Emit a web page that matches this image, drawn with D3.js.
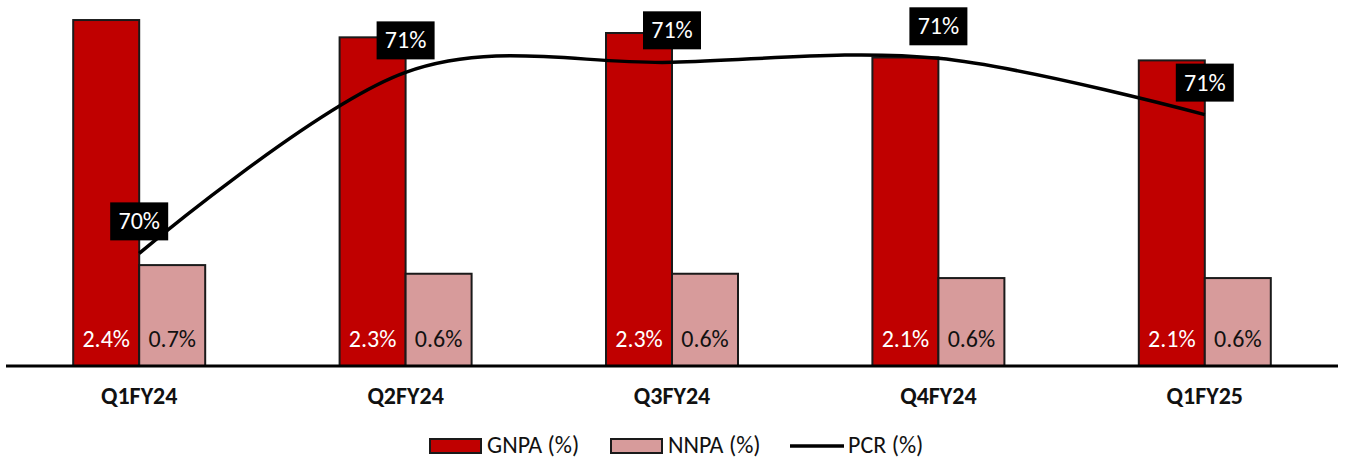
<!DOCTYPE html>
<html>
<head>
<meta charset="utf-8">
<script src="https://cdn.jsdelivr.net/npm/d3@7/dist/d3.min.js"></script>
<style>
  html, body { margin: 0; padding: 0; background: #fff; }
  svg { display: block; font-family: Carlito, Lato, "Open Sans", sans-serif; }
</style>
</head>
<body>
<svg id="chart" width="1347" height="459"></svg>
<script>
// Quarterly asset-quality metrics
const quarters = ["Q1FY24", "Q2FY24", "Q3FY24", "Q4FY24", "Q1FY25"];
const gnpa = [2.40, 2.28, 2.31, 2.14, 2.12];
const nnpa = [0.70, 0.64, 0.64, 0.61, 0.61];
const pcr  = [70.36, 71.26, 71.31, 71.33, 71.05];
const legendLabels = ["GNPA (%)", "NNPA (%)", "PCR (%)"];

const baseY = 366;
const colGNPA = "#C00000", colNNPA = "#D79B9B";
const fs = 24;

const svg = d3.select("#chart");

const x = d3.scaleBand().domain(quarters).range([6, 1338]).padding(0);
const barW = 66;
const y = d3.scaleLinear().domain([0, 2.539]).range([baseY, 0]);
const y2 = d3.scaleLinear().domain([69.8, 71.6]).range([baseY, 4]);
const cx = q => x(q) + x.bandwidth() / 2;
const fmt = d3.format(".1f");

// Bars
const g = svg.append("g");
g.selectAll("rect.gnpa").data(quarters).join("rect")
  .attr("class", "gnpa")
  .attr("x", (q) => cx(q) - barW)
  .attr("y", (q, i) => y(gnpa[i]))
  .attr("width", barW)
  .attr("height", (q, i) => baseY - y(gnpa[i]))
  .attr("fill", colGNPA).attr("stroke", "#1a1a1a").attr("stroke-width", 2);

g.selectAll("rect.nnpa").data(quarters).join("rect")
  .attr("class", "nnpa")
  .attr("x", (q) => cx(q))
  .attr("y", (q, i) => y(nnpa[i]))
  .attr("width", barW)
  .attr("height", (q, i) => baseY - y(nnpa[i]))
  .attr("fill", colNNPA).attr("stroke", "#1a1a1a").attr("stroke-width", 2);

// Bar value labels
g.selectAll("text.gl").data(quarters).join("text")
  .attr("x", q => cx(q) - barW / 2).attr("y", 347)
  .attr("text-anchor", "middle").attr("font-size", fs).attr("fill", "#fff")
  .text((q, i) => fmt(gnpa[i]) + "%");
g.selectAll("text.nl").data(quarters).join("text")
  .attr("x", q => cx(q) + barW / 2).attr("y", 347)
  .attr("text-anchor", "middle").attr("font-size", fs).attr("fill", "#111")
  .text((q, i) => fmt(nnpa[i]) + "%");

// Baseline axis with category labels
const axis = svg.append("g").attr("transform", `translate(0,${baseY})`)
  .call(d3.axisBottom(x).tickSize(0).tickPadding(0));
axis.select(".domain").attr("stroke", "#000").attr("stroke-width", 3)
  .attr("d", "M6,0H1338");
axis.selectAll(".tick text")
  .attr("y", 38).attr("dy", 0)
  .attr("font-size", fs).attr("font-weight", "bold")
  .attr("font-family", "Carlito, Lato, 'Open Sans', sans-serif")
  .attr("fill", "#111");

// PCR smoothed line
const line = d3.line()
  .x((d, i) => cx(quarters[i]))
  .y(d => y2(d))
  .curve(d3.curveCatmullRom.alpha(0));
svg.append("path").datum(pcr).attr("d", line)
  .attr("fill", "none").attr("stroke", "#000").attr("stroke-width", 3.5);

// PCR labels
const lbl = svg.append("g").selectAll("g").data(pcr).join("g")
  .attr("transform", (d, i) => `translate(${cx(quarters[i])},${y2(d) - 32})`);
lbl.append("rect").attr("x", -29).attr("y", -19).attr("width", 58).attr("height", 38)
  .attr("fill", "#000");
lbl.append("text").attr("text-anchor", "middle").attr("y", 8)
  .attr("font-size", fs).attr("fill", "#fff")
  .text(d => Math.round(d) + "%");

// Legend
const leg = svg.append("g");
const legY = 446;
leg.append("rect").attr("x", 430).attr("y", legY - 7).attr("width", 51).attr("height", 14)
  .attr("fill", colGNPA).attr("stroke", "#1a1a1a").attr("stroke-width", 2);
leg.append("text").attr("x", 487).attr("y", legY + 7).attr("font-size", fs).attr("fill", "#111")
  .text(legendLabels[0]);
leg.append("rect").attr("x", 611).attr("y", legY - 7).attr("width", 51).attr("height", 14)
  .attr("fill", colNNPA).attr("stroke", "#1a1a1a").attr("stroke-width", 2);
leg.append("text").attr("x", 668).attr("y", legY + 7).attr("font-size", fs).attr("fill", "#111")
  .text(legendLabels[1]);
leg.append("line").attr("x1", 790).attr("x2", 844).attr("y1", legY).attr("y2", legY)
  .attr("stroke", "#000").attr("stroke-width", 3.5);
leg.append("text").attr("x", 848).attr("y", legY + 7).attr("font-size", fs).attr("fill", "#111")
  .text(legendLabels[2]);
</script>
</body>
</html>
